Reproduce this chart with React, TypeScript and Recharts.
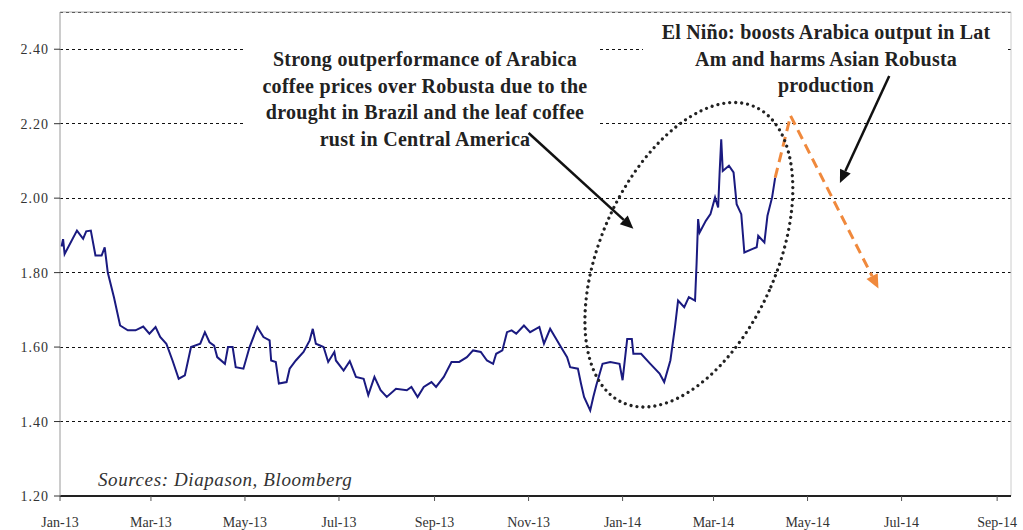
import {
  LineChart,
  Line,
  XAxis,
  YAxis,
  CartesianGrid,
  ReferenceLine,
  ReferenceDot,
} from "recharts";

// Arabica / Robusta price ratio
const dates = [
  "2013-01-02", "2013-01-03", "2013-01-04", "2013-01-12", "2013-01-16", "2013-01-18",
  "2013-01-21", "2013-01-24", "2013-01-28", "2013-01-30", "2013-02-01", "2013-02-05",
  "2013-02-09", "2013-02-14", "2013-02-19", "2013-02-24", "2013-02-28", "2013-03-04",
  "2013-03-07", "2013-03-11", "2013-03-15", "2013-03-19", "2013-03-23", "2013-03-27",
  "2013-04-02", "2013-04-05", "2013-04-08", "2013-04-11", "2013-04-13", "2013-04-18",
  "2013-04-20", "2013-04-23", "2013-04-25", "2013-04-30", "2013-05-04", "2013-05-09",
  "2013-05-13", "2013-05-17", "2013-05-18", "2013-05-21", "2013-05-23", "2013-05-28",
  "2013-05-30", "2013-06-03", "2013-06-08", "2013-06-12", "2013-06-14", "2013-06-16",
  "2013-06-21", "2013-06-24", "2013-06-28", "2013-06-29", "2013-07-04", "2013-07-08",
  "2013-07-12", "2013-07-17", "2013-07-20", "2013-07-24", "2013-07-28", "2013-08-01",
  "2013-08-07", "2013-08-14", "2013-08-17", "2013-08-21", "2013-08-25", "2013-08-30",
  "2013-09-02", "2013-09-07", "2013-09-12", "2013-09-17", "2013-09-22", "2013-09-26",
  "2013-10-01", "2013-10-05", "2013-10-09", "2013-10-11", "2013-10-15", "2013-10-18",
  "2013-10-21", "2013-10-24", "2013-10-29", "2013-11-02", "2013-11-08", "2013-11-11",
  "2013-11-15", "2013-11-22", "2013-11-26", "2013-11-28", "2013-12-03", "2013-12-05",
  "2013-12-07", "2013-12-11", "2013-12-13", "2013-12-15", "2013-12-19", "2013-12-24",
  "2013-12-30", "2014-01-01", "2014-01-04", "2014-01-07", "2014-01-08", "2014-01-13",
  "2014-01-19", "2014-01-25", "2014-01-28", "2014-02-01", "2014-02-04", "2014-02-06",
  "2014-02-10", "2014-02-13", "2014-02-17", "2014-02-18", "2014-02-19", "2014-02-20",
  "2014-02-24", "2014-02-27", "2014-03-02", "2014-03-04", "2014-03-05", "2014-03-06",
  "2014-03-07", "2014-03-11", "2014-03-14", "2014-03-16", "2014-03-19", "2014-03-21",
  "2014-03-26", "2014-03-29", "2014-03-30", "2014-04-03", "2014-04-05", "2014-04-08",
  "2014-04-10",
];

const ratio = [
  1.87, 1.89, 1.85, 1.913, 1.891, 1.911,
  1.913, 1.846, 1.846, 1.868, 1.8, 1.734,
  1.658, 1.645, 1.645, 1.655, 1.636, 1.654,
  1.627, 1.609, 1.564, 1.515, 1.524, 1.6,
  1.609, 1.64, 1.613, 1.604, 1.573, 1.555,
  1.6, 1.6, 1.546, 1.542, 1.6, 1.654,
  1.627, 1.618, 1.564, 1.56, 1.502, 1.506,
  1.542, 1.564, 1.587, 1.618, 1.649, 1.609,
  1.6, 1.56, 1.587, 1.564, 1.537, 1.562,
  1.52, 1.515, 1.471, 1.52, 1.484, 1.466,
  1.488, 1.484, 1.493, 1.466, 1.493, 1.506,
  1.493, 1.52, 1.56, 1.56, 1.573, 1.591,
  1.587, 1.564, 1.555, 1.582, 1.591, 1.64,
  1.645, 1.636, 1.658, 1.64, 1.654, 1.609,
  1.649, 1.6, 1.573, 1.546, 1.542, 1.502,
  1.466, 1.43, 1.466, 1.498, 1.555, 1.56,
  1.555, 1.511, 1.622, 1.622, 1.582, 1.582,
  1.555, 1.529, 1.506, 1.564, 1.654, 1.725,
  1.707, 1.734, 1.725, 1.823, 1.944, 1.908,
  1.939, 1.957, 2.002, 1.975, 2.073, 2.158,
  2.073, 2.087, 2.069, 1.984, 1.957, 1.854,
  1.863, 1.868, 1.899, 1.881, 1.953, 2.002,
  2.055,
];

const yTicks = [1.2, 1.4, 1.6, 1.8, 2.0, 2.2, 2.4];
const yMax = 2.5;
const xStart = "2013-01-01";
const xEnd = "2014-09-10";
const xTickDates = [
  "2013-01-01", "2013-03-01", "2013-05-01", "2013-07-01", "2013-09-01", "2013-11-01",
  "2014-01-01", "2014-03-01", "2014-05-01", "2014-07-01", "2014-09-01",
];
const MONTHS = ["Jan", "Feb", "Mar", "Apr", "May", "Jun", "Jul", "Aug", "Sep", "Oct", "Nov", "Dec"];

// annotation anchors (date, ratio)
const coffeeArrow: [string, number][] = [["2013-11-01", 2.175], ["2014-01-08", 1.918]];
const elNinoArrow: [string, number][] = [["2014-06-23", 2.328], ["2014-05-22", 2.041]];
const outlookPath: [string, number][] = [["2014-04-10", 2.055], ["2014-04-20", 2.221], ["2014-06-16", 1.757]];
const ellipseCenter: [string, number] = ["2014-02-13", 1.848];

const ts = (d: string) => Date.parse(d + "T00:00:00Z");
const data = dates.map((d, i) => ({ t: ts(d), v: ratio[i] }));

const FONT = '"Liberation Serif", "Times New Roman", serif';
const NAVY = "#1a1a80";
const ORANGE = "#f0893c";

function arrowShape(color: string, width: number, dash: string | undefined, head: number) {
  return (p: any) => {
    const { x1, y1, x2, y2 } = p;
    const a = Math.atan2(y2 - y1, x2 - x1);
    const hx = x2 - head * Math.cos(a);
    const hy = y2 - head * Math.sin(a);
    const w = head * 0.45;
    return (
      <g>
        <line
          x1={x1}
          y1={y1}
          x2={head ? hx : x2}
          y2={head ? hy : y2}
          stroke={color}
          strokeWidth={width}
          strokeDasharray={dash}
        />
        {head > 0 && (
          <polygon
            points={`${x2},${y2} ${hx + w * Math.sin(a)},${hy - w * Math.cos(a)} ${hx - w * Math.sin(a)},${hy + w * Math.cos(a)}`}
            fill={color}
          />
        )}
      </g>
    );
  };
}

const seg = (a: [string, number], b: [string, number]) =>
  [{ x: ts(a[0]), y: a[1] }, { x: ts(b[0]), y: b[1] }] as any;

export default function App() {
  return (
    <div
      style={{
        position: "absolute",
        left: 0,
        top: 0,
        width: 1023,
        height: 530,
        background: "#fff",
        fontFamily: FONT,
      }}
    >
      <LineChart
        width={1023}
        height={530}
        data={data}
        margin={{ top: 12, right: 12, bottom: 0, left: 0 }}
      >
        <CartesianGrid
          vertical={false}
          stroke="#111"
          strokeDasharray="3 3"
          shapeRendering="crispEdges"
        />
        <XAxis
          dataKey="t"
          type="number"
          scale="time"
          domain={[ts(xStart), ts(xEnd)]}
          ticks={xTickDates.map(ts)}
          tickFormatter={(t: number) => {
            const d = new Date(t);
            return `${MONTHS[d.getUTCMonth()]}-${String(d.getUTCFullYear()).slice(2)}`;
          }}
          height={34}
          tickSize={5}
          tickMargin={16}
          axisLine={{ stroke: "#222", strokeWidth: 2 }}
          tickLine={{ stroke: "#555" }}
          tick={{ fontSize: 14, fill: "#333", fontFamily: FONT }}
        />
        <YAxis
          type="number"
          domain={[yTicks[0], yMax]}
          ticks={yTicks}
          tickFormatter={(v: number) => v.toFixed(2)}
          width={60}
          tickSize={6}
          tickMargin={5}
          axisLine={{ stroke: "#999" }}
          tickLine={{ stroke: "#333" }}
          tick={{ fontSize: 14, fill: "#333", fontFamily: FONT, letterSpacing: 1 }}
        />
        <ReferenceLine y={yMax} stroke="#aaa" />
        <ReferenceLine x={ts(xEnd)} stroke="#ccc" />
        <Line
          type="linear"
          dataKey="v"
          stroke={NAVY}
          strokeWidth={2}
          dot={false}
          isAnimationActive={false}
        />
        <ReferenceDot
          x={ts(ellipseCenter[0])}
          y={ellipseCenter[1]}
          shape={(p: any) => (
            <ellipse
              cx={p.cx}
              cy={p.cy}
              rx={88}
              ry={162}
              transform={`rotate(24 ${p.cx} ${p.cy})`}
              fill="none"
              stroke="#222"
              strokeWidth={3.2}
              strokeDasharray="0 6"
              strokeLinecap="round"
            />
          )}
        />
        <ReferenceLine
          segment={seg(coffeeArrow[0], coffeeArrow[1])}
          shape={arrowShape("#111", 2.5, undefined, 13)}
        />
        <ReferenceLine
          segment={seg(elNinoArrow[0], elNinoArrow[1])}
          shape={arrowShape("#111", 2.5, undefined, 13)}
        />
        <ReferenceLine
          segment={seg(outlookPath[0], outlookPath[1])}
          shape={arrowShape(ORANGE, 3, "10 6", 0)}
        />
        <ReferenceLine
          segment={seg(outlookPath[1], outlookPath[2])}
          shape={arrowShape(ORANGE, 3, "10 6", 14)}
        />
      </LineChart>

      {/* white boxes behind the notes, hiding the grid lines */}
      <div style={{ position: "absolute", left: 245, top: 36, width: 353, height: 94, background: "#fff" }} />
      <div style={{ position: "absolute", left: 643, top: 16, width: 365, height: 44, background: "#fff" }} />

      <div
        style={{
          position: "absolute",
          left: 235,
          top: 46,
          width: 380,
          textAlign: "center",
          fontSize: 20,
          lineHeight: "26.5px",
          fontWeight: "bold",
          color: "#222",
          letterSpacing: 0.3,
        }}
      >
        Strong outperformance of Arabica
        <br />
        coffee prices over Robusta due to the
        <br />
        drought in Brazil and the leaf coffee
        <br />
        rust in Central America
      </div>
      <div
        style={{
          position: "absolute",
          left: 636,
          top: 19,
          width: 380,
          textAlign: "center",
          fontSize: 20,
          lineHeight: "26.5px",
          fontWeight: "bold",
          color: "#222",
          letterSpacing: 0.2,
        }}
      >
        El Niño: boosts Arabica output in Lat
        <br />
        Am and harms Asian Robusta
        <br />
        production
      </div>
      <div
        style={{
          position: "absolute",
          left: 98,
          top: 470,
          fontSize: 19,
          lineHeight: "19px",
          fontStyle: "italic",
          color: "#333",
          letterSpacing: 0.6,
        }}
      >
        Sources: Diapason, Bloomberg
      </div>
    </div>
  );
}
